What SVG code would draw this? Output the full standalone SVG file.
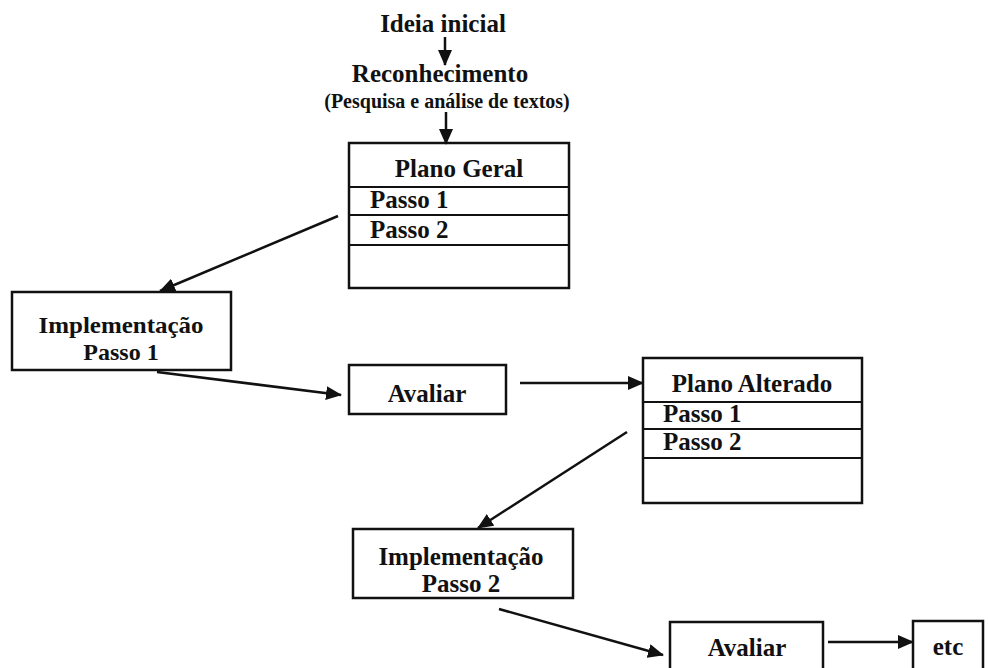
<svg xmlns="http://www.w3.org/2000/svg" width="988" height="668" viewBox="0 0 988 668">
<defs>
<marker id="ah" viewBox="0 0 16 14" refX="15" refY="7" markerWidth="16" markerHeight="14" markerUnits="userSpaceOnUse" orient="auto">
<path d="M0,0 L16,7 L0,14 z" fill="#111"/>
</marker>
<style>
text{font-family:"Liberation Serif","Times New Roman",serif;font-weight:bold;font-size:25px;fill:#111}
.c{text-anchor:middle}
.s{font-size:20px}
.t{font-size:24px}
.box{fill:none;stroke:#111;stroke-width:2.5}
.div{stroke:#111;stroke-width:2}
.con line{stroke:#111;stroke-width:2.5;marker-end:url(#ah)}
</style>
</defs>
<rect width="988" height="668" fill="#fff"/>
<g id="ideia"><text class="c" x="443" y="32">Ideia inicial</text></g>
<g id="reconhecimento"><text class="c" x="440" y="82">Reconhecimento</text><text class="c s" x="447" y="108">(Pesquisa e análise de textos)</text></g>
<g id="plano-geral">
<rect class="box" x="349" y="143" width="220" height="145"/>
<line class="div" x1="349" y1="187" x2="569" y2="187"/>
<line class="div" x1="349" y1="215" x2="569" y2="215"/>
<line class="div" x1="349" y1="245" x2="569" y2="245"/>
<text class="c" x="459" y="177">Plano Geral</text>
<text x="370" y="208">Passo 1</text>
<text x="370" y="238">Passo 2</text>
</g>
<g id="impl1">
<rect class="box" x="12" y="292" width="219" height="78"/>
<text class="c t" x="121" y="333" textLength="165" lengthAdjust="spacingAndGlyphs">Implementação</text>
<text class="c t" x="121" y="360">Passo 1</text>
</g>
<g id="avaliar1">
<rect class="box" x="349" y="365" width="157" height="49"/>
<text class="c" x="427" y="402">Avaliar</text>
</g>
<g id="plano-alterado">
<rect class="box" x="643" y="358" width="219" height="145"/>
<line class="div" x1="643" y1="402" x2="862" y2="402"/>
<line class="div" x1="643" y1="429" x2="862" y2="429"/>
<line class="div" x1="643" y1="458" x2="862" y2="458"/>
<text class="c" x="752" y="392">Plano Alterado</text>
<text x="663" y="422">Passo 1</text>
<text x="663" y="450">Passo 2</text>
</g>
<g id="impl2">
<rect class="box" x="353" y="529" width="220" height="69"/>
<text class="c" x="461" y="565">Implementação</text>
<text class="c" x="461" y="592">Passo 2</text>
</g>
<g id="avaliar2">
<rect class="box" x="670" y="622" width="153" height="60"/>
<text class="c" x="747" y="656">Avaliar</text>
</g>
<g id="etc">
<rect class="box" x="913" y="621" width="70" height="60"/>
<text class="c" x="948" y="655">etc</text>
</g>
<g id="connectors" class="con">
<line x1="445" y1="37" x2="445" y2="65"/>
<line x1="446" y1="112" x2="446" y2="144"/>
<line x1="338" y1="216" x2="160" y2="291"/>
<line x1="157" y1="372" x2="341" y2="395"/>
<line x1="520" y1="383" x2="643" y2="383"/>
<line x1="627" y1="432" x2="478" y2="528"/>
<line x1="499" y1="609" x2="663" y2="655"/>
<line x1="828" y1="642" x2="913" y2="642"/>
</g>
</svg>
